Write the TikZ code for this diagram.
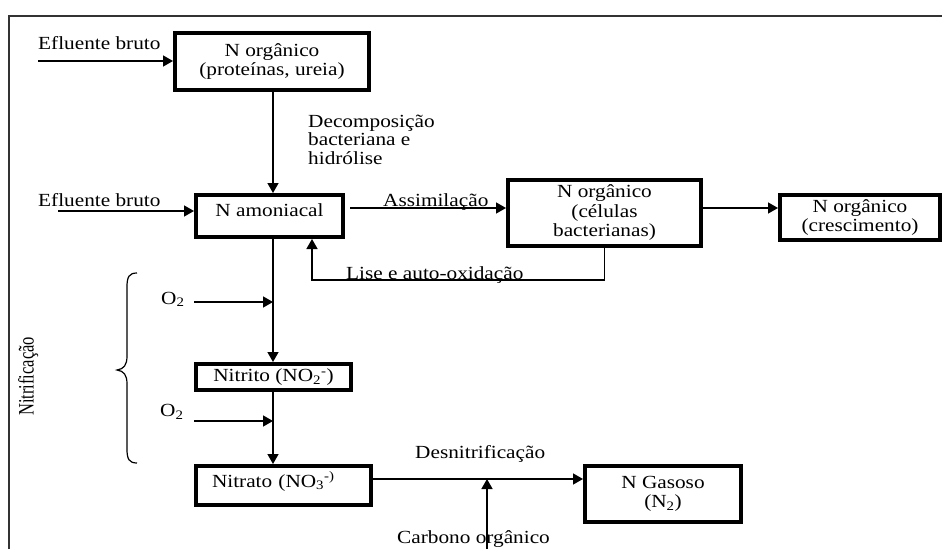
\documentclass[tikz,border=0pt]{standalone}
\usepackage{fontspec}
\setmainfont{Liberation Serif}[FakeStretch=1.15]
\newfontfamily\narrowserif{Liberation Serif}[FakeStretch=0.75]
\usetikzlibrary{arrows.meta}

\begin{document}
\begin{tikzpicture}[x=1pt,y=-1pt,
  txt/.style={font=\fontsize{18.5}{19.5}\selectfont, inner sep=0pt},
  stage/.style={txt, draw, line width=4pt, align=center},
  link/.style={line width=1.5pt, -{Triangle[length=10pt,width=11pt]}},
  plain/.style={line width=1.2pt},
  frame/.style={line width=1.6pt, draw=black!80}]

\useasboundingbox (0,0) rectangle (942,549);
% page frame
\draw[frame] (9,549) -- (9,16) -- (942,16);

% nitrogen stages
\node[stage, minimum width=194pt, minimum height=57pt] (org) at (272,61.5) {N orgânico\\(proteínas, ureia)};
\node[stage, minimum width=147pt, minimum height=42pt, text depth=11pt] (amon) at (269.5,216) {N amoniacal};
\node[stage, minimum width=193pt, minimum height=66pt] (cel) at (604.5,213) {N orgânico\\(células\\bacterianas)};
\node[stage, minimum width=160pt, minimum height=45pt] (cresc) at (860,217.5) {N orgânico\\(crescimento)};
\node[stage, minimum width=155pt, minimum height=26pt] (nitrito) at (273.5,377) {Nitrito (NO\textsubscript{2}\textsuperscript{-})};
\node[stage, minimum width=175pt, minimum height=39pt, text width=143pt, align=left, text height=14pt, text depth=11pt] (nitrato) at (283.5,485.5) {Nitrato (NO\textsubscript{3}\textsuperscript{-)}};
\node[stage, minimum width=156pt, minimum height=56pt] (gas) at (663,494) {N Gasoso\\(N\textsubscript{2})};

% labels
\node[txt, anchor=base west] (efl1) at (38,49) {Efluente bruto};
\node[txt, anchor=base west] (efl2) at (38,206) {Efluente bruto};
\node[txt, anchor=north west, align=left, font=\fontsize{18.5}{18.5}\selectfont] (decomp) at (308,114.4) {Decomposição\\bacteriana e\\hidrólise};
\node[txt, anchor=base west] (assim) at (383,206.5) {Assimilação};
\node[txt, anchor=base west] (lise) at (346,279) {Lise e auto-oxidação};
\node[txt, anchor=base west] (o2a) at (161,304) {O\textsubscript{2}};
\node[txt, anchor=base west] (o2b) at (160,416.5) {O\textsubscript{2}};
\node[txt, anchor=base west] (desn) at (415,458) {Desnitrificação};
\node[txt, anchor=base west] (carb) at (397,543) {Carbono orgânico};
\node[anchor=base, rotate=90, inner sep=0pt, font=\narrowserif\fontsize{22}{22}\selectfont] (nitrif) at (33.5,376.5) {Nitrificação};

% helper coordinates
\coordinate (spine) at (273,0);
\coordinate (e1) at (38,61);
\coordinate (e2) at (58,211);
\coordinate (asm) at (0,208);
\coordinate (lisecorner) at (312,280);
\coordinate (o1) at (194,302);
\coordinate (o2) at (194,421);
\coordinate (dn) at (0,479);
\coordinate (cb) at (487,549);

% connectors
\draw[link] (e1) -- (e1 -| org.west);
\draw[link] (org.south -| spine) -- (amon.north -| spine);
\draw[link] (e2) -- (e2 -| amon.west);
\draw[link, shorten <=5pt] (amon.east |- asm) -- (cel.west |- asm);
\draw[link] (cel.east |- asm) -- (cresc.west |- asm);
\draw[link] (cel.south) |- (lisecorner) -- (lisecorner |- amon.south);
\draw[link] (amon.south -| spine) -- (nitrito.north -| spine);
\draw[link] (o1) -- (o1 -| spine);
\draw[link] (nitrito.south -| spine) -- (nitrato.north -| spine);
\draw[link] (o2) -- (o2 -| spine);
\draw[link] (nitrato.east |- dn) -- (gas.west |- dn);
\draw[link] (cb) -- (cb |- dn);

% nitrification brace
\draw[plain] (137,273) .. controls (129,273) and (127,277) .. (127,287) -- (127,356)
  .. controls (127,365) and (124,369) .. (117,370)
  .. controls (124,371) and (127,375) .. (127,384) -- (127,449)
  .. controls (127,459) and (129,463) .. (137,463);
\end{tikzpicture}
\end{document}
